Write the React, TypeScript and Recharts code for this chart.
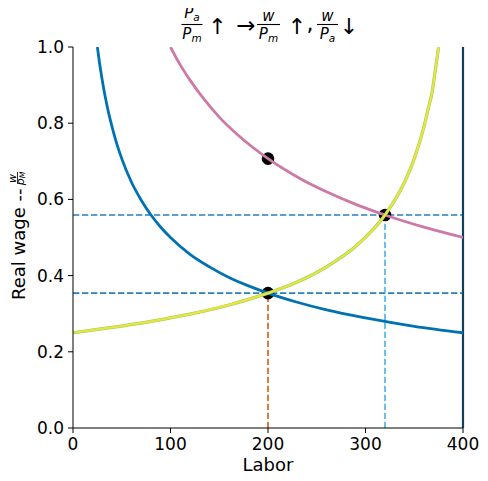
import React from "react";
import {
  ComposedChart,
  Line,
  XAxis,
  YAxis,
  ReferenceLine,
} from "recharts";

// Marginal product of labor in manufacturing (initial prices)
const laborMfg = [25, 27, 30, 33, 36, 40, 45, 50, 60, 70, 80, 90, 100, 120, 140, 160, 180, 200, 230, 260, 300, 350, 400];
const wageMfg = [1.0, 0.962, 0.913, 0.87, 0.833, 0.791, 0.745, 0.707, 0.645, 0.598, 0.559, 0.527, 0.5, 0.456, 0.423, 0.395, 0.373, 0.354, 0.33, 0.31, 0.289, 0.267, 0.25];

// Marginal product of labor in manufacturing after price increase
const laborMfgNew = [100, 110, 120, 135, 150, 170, 200, 230, 260, 290, 320, 360, 400];
const wageMfgNew = [1.0, 0.953, 0.913, 0.861, 0.816, 0.767, 0.707, 0.659, 0.62, 0.587, 0.559, 0.527, 0.5];

// Marginal product of labor in agriculture (measured from the right)
const laborAg = [0, 40, 80, 120, 160, 200, 230, 260, 290, 320, 340, 350, 360, 365, 368, 371, 375];
const wageAg = [0.25, 0.264, 0.28, 0.299, 0.323, 0.354, 0.383, 0.423, 0.477, 0.559, 0.645, 0.707, 0.791, 0.845, 0.877, 0.928, 1.0];

// Equilibrium points
const eqLabor = [200, 200, 320];
const eqWage = [0.354, 0.707, 0.559];

// Wage levels (horizontal guides)
const wageLevels = [0.354, 0.559];

const xTicks = [0, 100, 200, 300, 400];
const yTicks = [0, 0.2, 0.4, 0.6, 0.8, 1.0];

const zip = (xs: number[], ys: number[]) => xs.map((x, i) => ({ x, y: ys[i] }));

const mfgData = zip(laborMfg, wageMfg);
const mfgNewData = zip(laborMfgNew, wageMfgNew);
const agData = zip(laborAg, wageAg);
// each equilibrium point as a zero-length segment drawn with a round cap (a dot)
const eqDots = eqLabor.map((x, i) => [
  { x, y: eqWage[i] },
  { x, y: eqWage[i] },
]);
const vLine1 = [
  { x: eqLabor[0], y: 0 },
  { x: eqLabor[0], y: eqWage[0] },
];
const vLine2 = [
  { x: eqLabor[2], y: 0 },
  { x: eqLabor[2], y: eqWage[2] },
];

const FONT = "DejaVu Sans";

export default function App() {
  return (
    <div style={{ position: "relative", width: 480, height: 473, fontFamily: FONT }}>
      <ComposedChart
        width={480}
        height={473}
        margin={{ top: 39, right: 25, left: 15, bottom: 23 }}
      >
        <XAxis
          dataKey="x"
          type="number"
          domain={[0, 400]}
          ticks={xTicks}
          allowDataOverflow
          tickSize={5}
          tickMargin={5}
          height={30}
          stroke="#000"
          tick={{ fill: "#000", fontSize: 17, fontFamily: FONT }}
          tickLine={{ stroke: "#000" }}
        />
        <YAxis
          dataKey="y"
          type="number"
          domain={[0, 1]}
          ticks={yTicks}
          allowDataOverflow
          width={50}
          tickSize={5}
          tickMargin={4}
          stroke="#000"
          tickFormatter={(v: number) => v.toFixed(1)}
          tick={{ fill: "#000", fontSize: 17, fontFamily: FONT }}
          tickLine={{ stroke: "#000" }}
        />
        {wageLevels.map((w) => (
          <ReferenceLine
            key={w}
            y={w}
            stroke="#2a7fc0"
            strokeWidth={1.7}
            strokeDasharray="6.3 2.7"
          />
        ))}
        <ReferenceLine x={400} stroke="#133f5f" strokeWidth={2.2} />
        <Line
          data={vLine1}
          dataKey="y"
          stroke="#d9661a"
          strokeWidth={1.7}
          strokeDasharray="6.3 2.7"
          dot={false}
          isAnimationActive={false}
        />
        <Line
          data={vLine2}
          dataKey="y"
          stroke="#56B4E9"
          strokeWidth={1.7}
          strokeDasharray="6.3 2.7"
          dot={false}
          isAnimationActive={false}
        />
        {eqDots.map((d, i) => (
          <Line
            key={`eq-${i}`}
            data={d}
            dataKey="y"
            stroke="#000"
            strokeWidth={12.6}
            strokeLinecap="round"
            dot={false}
            activeDot={false}
            isAnimationActive={false}
          />
        ))}
        <Line
          data={mfgData}
          dataKey="y"
          type="monotone"
          stroke="#0072B2"
          strokeWidth={2.8}
          dot={false}
          isAnimationActive={false}
        />
        <Line
          data={mfgNewData}
          dataKey="y"
          type="monotone"
          stroke="#CC79A7"
          strokeWidth={2.8}
          dot={false}
          isAnimationActive={false}
        />
        <Line
          data={agData}
          dataKey="y"
          type="monotone"
          stroke="#8fcf6a"
          strokeWidth={3.2}
          dot={false}
          isAnimationActive={false}
        />
        <Line
          data={agData}
          dataKey="y"
          type="monotone"
          stroke="#ece43c"
          strokeWidth={2.2}
          dot={false}
          isAnimationActive={false}
        />
      </ComposedChart>
      <svg
        width={488}
        height={481}
        style={{ position: "absolute", left: -8, top: -8, pointerEvents: "none" }}
        fontFamily={FONT}
      >
        {/* Title */}
        <g fill="#000">
          <text x={192} y={18} textAnchor="middle" fontSize={15} fontStyle="italic">
            P<tspan fontSize={10.5} dy={3}>a</tspan>
          </text>
          <line x1={181.5} x2={202.5} y1={24.5} y2={24.5} stroke="#000" strokeWidth={1.1} />
          <text x={192} y={39} textAnchor="middle" fontSize={15} fontStyle="italic">
            P<tspan fontSize={10.5} dy={3}>m</tspan>
          </text>
          <text x={217.5} y={34} textAnchor="middle" fontSize={22}>↑</text>
          <text x={246} y={33} textAnchor="middle" fontSize={23}>→</text>
          <text x={268.5} y={21} textAnchor="middle" fontSize={15} fontStyle="italic">w</text>
          <line x1={257} x2={280} y1={24.5} y2={24.5} stroke="#000" strokeWidth={1.1} />
          <text x={268.5} y={39} textAnchor="middle" fontSize={15} fontStyle="italic">
            P<tspan fontSize={10.5} dy={3}>m</tspan>
          </text>
          <text x={297} y={34} textAnchor="middle" fontSize={22}>↑</text>
          <text x={310} y={31} textAnchor="middle" fontSize={22}>,</text>
          <text x={327.5} y={21} textAnchor="middle" fontSize={15} fontStyle="italic">w</text>
          <line x1={317} x2={338} y1={24.5} y2={24.5} stroke="#000" strokeWidth={1.1} />
          <text x={327.5} y={39} textAnchor="middle" fontSize={15} fontStyle="italic">
            P<tspan fontSize={10.5} dy={3}>a</tspan>
          </text>
          <text x={349} y={34} textAnchor="middle" fontSize={22}>↓</text>
        </g>
        {/* Y label */}
        <g transform="translate(25,300) rotate(-90)" fill="#000">
          <text x={0} y={0} fontSize={18}>Real wage --</text>
          <text x={121.5} y={-9.5} textAnchor="middle" fontSize={11} fontStyle="italic">w</text>
          <line x1={116} x2={128} y1={-7.5} y2={-7.5} stroke="#000" strokeWidth={0.8} />
          <text x={121.5} y={-1.5} textAnchor="middle" fontSize={11} fontStyle="italic">
            p<tspan fontSize={7.7} dy={1.5}>M</tspan>
          </text>
        </g>
        {/* X label */}
        <text x={268} y={471} textAnchor="middle" fontSize={18} fill="#000">Labor</text>
      </svg>
    </div>
  );
}
